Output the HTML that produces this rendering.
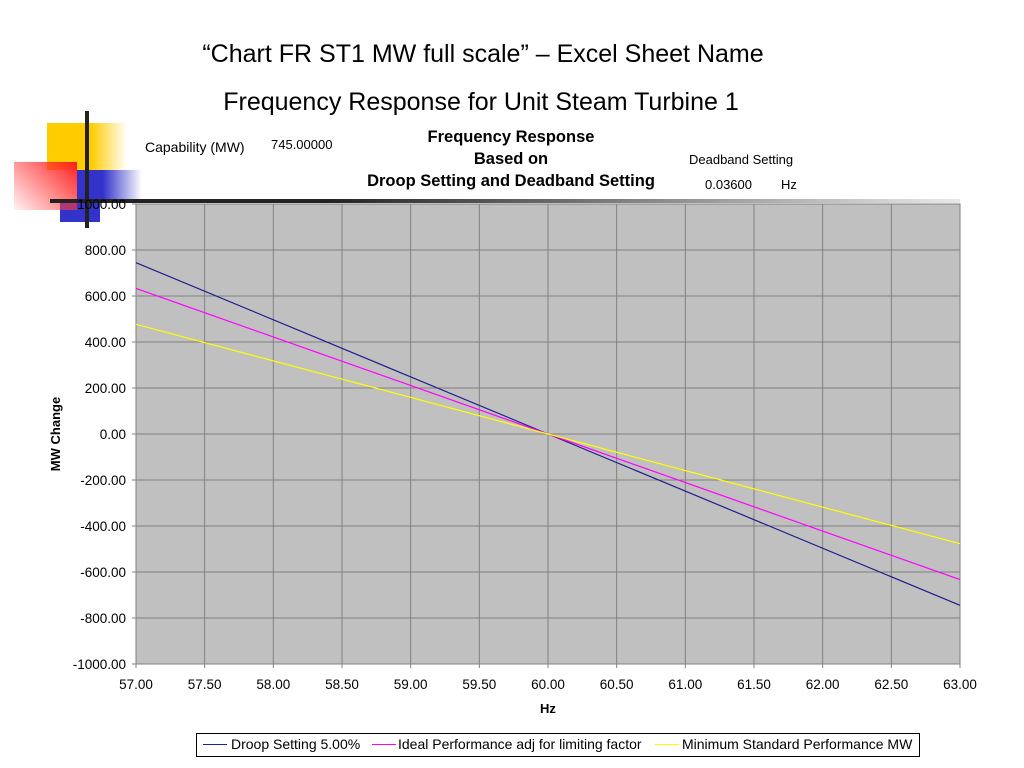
<!DOCTYPE html>
<html><head><meta charset="utf-8"><style>
body{margin:0;width:1024px;height:768px;background:#fff;overflow:hidden;font-family:"Liberation Sans",sans-serif;position:relative}
.a{position:absolute;white-space:nowrap}
</style></head><body>
<div class="a" style="left:0;width:966px;text-align:center;top:40px;font-size:25px">“Chart FR ST1 MW full scale” – Excel Sheet Name</div>
<div class="a" style="left:0;width:962px;text-align:center;top:88px;font-size:25px">Frequency Response for Unit Steam Turbine 1</div>
<div class="a" style="left:47px;top:123px;width:80px;height:47px;background:linear-gradient(90deg,#ffcc00 55%,rgba(255,204,0,0))"></div>
<div class="a" style="left:77px;top:170px;width:65px;height:30px;background:linear-gradient(90deg,#3333cc 40%,rgba(51,51,204,0))"></div>
<div class="a" style="left:60px;top:200px;width:40px;height:22px;background:#3333cc"></div>
<div class="a" style="left:14px;top:162px;width:63px;height:48px;background:linear-gradient(225deg,#ff2020,rgba(255,200,200,0.2))"></div>
<div class="a" style="left:85px;top:111px;width:4px;height:117px;background:#222"></div>
<div class="a" style="left:50px;top:199px;width:910px;height:4px;background:linear-gradient(90deg,#222 30%,rgba(40,40,40,0.1))"></div>
<div class="a" style="left:145px;top:139px;font-size:14px">Capability (MW)</div>
<div class="a" style="left:271px;top:137px;font-size:13px">745.00000</div>
<div class="a" style="left:352px;width:318px;text-align:center;top:126px;font-size:16.5px;font-weight:bold;line-height:22px">Frequency Response<br>Based on<br>Droop Setting and Deadband Setting</div>
<div class="a" style="left:689px;top:152px;font-size:13px">Deadband Setting</div>
<div class="a" style="left:705px;top:177px;font-size:13px">0.03600</div>
<div class="a" style="left:781px;top:177px;font-size:13px">Hz</div>
<svg class="a" style="left:0;top:0" width="1024" height="768">
<g id="g"></g>
</svg>
<div class="a" style="left:196px;top:733px;width:722px;height:22px;border:1px solid #000;background:#fff;font-size:14px">
<span class="a" style="left:6px;top:10px;width:24px;border-top:1px solid #1f1f8f"></span><span class="a" style="left:34px;top:2px">Droop Setting 5.00%</span>
<span class="a" style="left:175px;top:10px;width:24px;border-top:1px solid #ff00ff"></span><span class="a" style="left:201px;top:2px">Ideal Performance adj for limiting factor</span>
<span class="a" style="left:458px;top:10px;width:24px;border-top:1px solid #ffff00"></span><span class="a" style="left:485px;top:2px">Minimum Standard Performance MW</span>
</div>
<script>
const xTicks=[57,57.5,58,58.5,59,59.5,60,60.5,61,61.5,62,62.5,63];
const yTicks=[1000,800,600,400,200,0,-200,-400,-600,-800,-1000];
const hz=[57,60,63];
const droop=[745,0,-745];
const ideal=[633,0,-633];
const minimum=[477,0,-477];
const L=136,R=960,T=204,B=664;
const X=v=>L+(v-57)/6*(R-L), Y=v=>T+(1000-v)/2000*(B-T);
const g=document.getElementById('g');const NS='http://www.w3.org/2000/svg';
function el(t,a){const e=document.createElementNS(NS,t);for(const k in a)e.setAttribute(k,a[k]);g.appendChild(e);return e;}
const bg=el('rect',{x:L,y:T,width:R-L,height:B-T,fill:'#c0c0c0',stroke:'#808080'});


xTicks.forEach(v=>{const l=el('line',{x1:X(v),x2:X(v),y1:T,y2:B+4,stroke:'#808080'});


const t=el('text',{x:X(v),y:B+25,'text-anchor':'middle','font-size':13.5});t.textContent=v.toFixed(2);

});
yTicks.forEach(v=>{const l=el('line',{x1:L-4,x2:R,y1:Y(v),y2:Y(v),stroke:'#808080'});


const t=el('text',{x:L-10,y:Y(v)+5,'text-anchor':'end','font-size':13.5});t.textContent=v.toFixed(2);

});
[[droop,'#1f1f8f','droop-line'],[ideal,'#ff00ff','ideal-line'],[minimum,'#ffff00','minimum-line']].forEach(([d,c,n])=>{
const p=el('polyline',{points:hz.map((h,i)=>X(h)+','+Y(d[i])).join(' '),fill:'none',stroke:c,'stroke-width':1.2});

});
const xt=el('text',{x:548,y:713,'text-anchor':'middle','font-size':13,'font-weight':'bold'});xt.textContent='Hz';


const yt=el('text',{x:0,y:0,'text-anchor':'middle','font-size':13,'font-weight':'bold',transform:'translate(60,434) rotate(-90)'});yt.textContent='MW Change';


</script>
</body></html>
